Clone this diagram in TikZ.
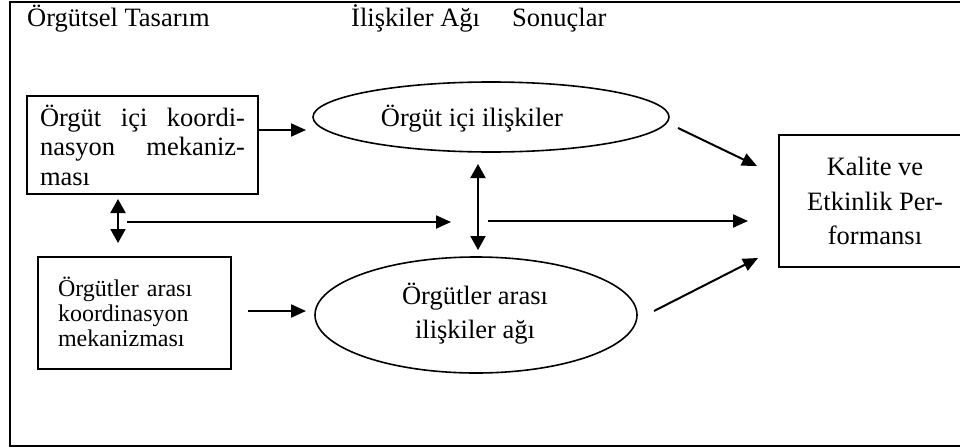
\documentclass[tikz,border=0pt]{standalone}
\usepackage{fontspec}
\setmainfont{Liberation Serif}
\usetikzlibrary{shapes.geometric,arrows.meta}
\begin{document}
\begin{tikzpicture}[x=1pt,y=-1pt,
  bigfont/.style={font=\fontsize{26.5}{30}\selectfont},
  boxa/.style={draw,line width=2pt,inner ysep=0pt},
  ell/.style={draw,ellipse,line width=1.6pt,inner sep=0pt},
  arr/.style={line width=2pt,-{Triangle[length=15pt,width=13pt]}},
  darr/.style={line width=2pt,{Triangle[length=14pt,width=15pt]}-{Triangle[length=14pt,width=15pt]}},
  ttl/.style={font=\fontsize{26.5}{30}\selectfont,anchor=base west,inner sep=0pt}]
\useasboundingbox (0,0) rectangle (960,447);
\clip (0,0) rectangle (960,447);
% frame
\draw[line width=1.3pt] (10,2) rectangle (990,446);
% titles
\node[ttl] (t1) at (27,26) {Örgütsel Tasarım};
\node[ttl] (t2) at (351,26) {İlişkiler Ağı};
\node[ttl] (t3) at (512,26) {Sonuçlar};
% box 1
\node[boxa,font=\fontsize{26.5}{29.5}\selectfont,text width=205pt,inner xsep=13pt,
      minimum height=98pt,align=left] (b1) at (142.5,145)
  {\leavevmode\hbox to 205pt{Örgüt\hfill içi\hfill koordi-}\\\leavevmode\hbox to 205pt{nasyon\hfill mekaniz-}\\ması};
% box 2
\node[boxa,font=\fontsize{24}{25}\selectfont,text width=153pt,inner xsep=20pt,
      minimum height=112pt,align=left] (b2) at (134.5,313)
  {\raisebox{3pt}{Örgütler arası}\\\raisebox{3pt}{koordinasyon}\\\raisebox{3pt}{mekanizması}};
% result box
\node[boxa,font=\fontsize{26.5}{34.5}\selectfont,minimum width=192pt,
      minimum height=132pt,align=center] (k) at (875,201)
  {Kalite ve\\Etkinlik Per-\\formansı};
% ellipses
\node[ell,minimum width=356pt,minimum height=70pt] (e1) at (491,117) {};
\node[bigfont,inner sep=0pt] (e1t) at (472,119) {Örgüt içi ilişkiler};
\node[ell,minimum width=322pt,minimum height=116pt] (e2) at (476,315) {};
\node[font=\fontsize{26.5}{34}\selectfont,align=center,inner sep=0pt] (e2t) at (475,314)
  {Örgütler arası\\ilişkiler ağı};
% connector end points
\coordinate (a1s) at (259,130); \coordinate (a1e) at (306,130);
\coordinate (a2s) at (678,128); \coordinate (a2e) at (757,166);
\coordinate (d1s) at (118,199); \coordinate (d1e) at (118,243);
\coordinate (h1s) at (127,222); \coordinate (h1e) at (451,222);
\coordinate (d2s) at (478,164); \coordinate (d2e) at (478,250);
\coordinate (h2s) at (488,221); \coordinate (h2e) at (748,221);
\coordinate (a3s) at (248,311); \coordinate (a3e) at (306,311);
\coordinate (a4s) at (654,311); \coordinate (a4e) at (758,258);
% connectors
\draw[arr] (a1s) -- (a1e);
\draw[arr] (a2s) -- (a2e);
\draw[darr] (d1s) -- (d1e);
\draw[arr] (h1s) -- (h1e);
\draw[darr] (d2s) -- (d2e);
\draw[arr] (h2s) -- (h2e);
\draw[arr] (a3s) -- (a3e);
\draw[arr] (a4s) -- (a4e);
\end{tikzpicture}
\end{document}
